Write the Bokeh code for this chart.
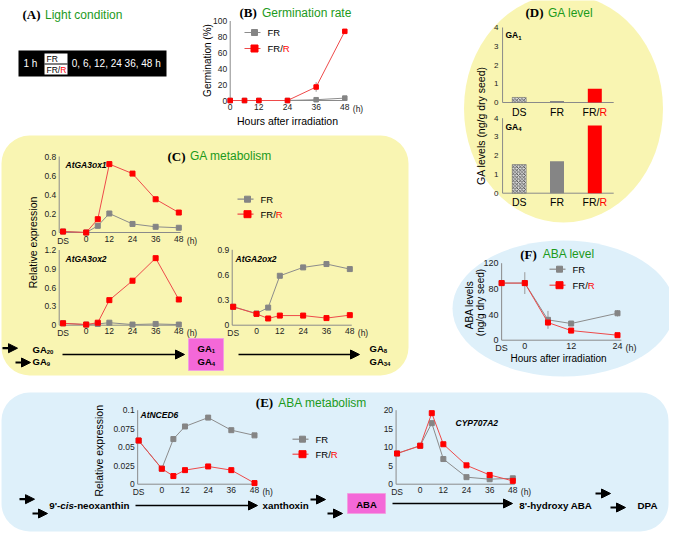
import math
from bokeh.plotting import figure
from bokeh.models import Range1d, Arrow, NormalHead
from bokeh.core.properties import value
from bokeh.embed import file_html
from bokeh.resources import INLINE

# ---------------- data ----------------
B_hours = [0, 6, 12, 24, 36, 48]
B_germ_FR = [0, 0, 0, 0, 1, 3]
B_germ_FRR = [0, 0, 0, 0, 17, 87]
B_err_FRR = [0, 0, 0, 0, 6, 0]
B_ticks = [0, 12, 24, 36, 48]
B_tick_labels = ["0", "12", "24", "36", "48"]
B_yticks = [0, 20, 40, 60, 80, 100]

T_hours = [-12, 0, 6, 12, 24, 36, 48]          # -12 stands for DS (dry seed)
T_ticks = [-12, 0, 12, 24, 36, 48]
T_tick_labels = ["DS", "0", "12", "24", "36", "48"]

GA3ox1_FR = [0.01, 0.0, 0.07, 0.20, 0.09, 0.06, 0.05]
GA3ox1_FRR = [0.01, 0.0, 0.14, 0.72, 0.62, 0.35, 0.21]
GA3ox2_FR = [0.03, 0.01, 0.02, 0.04, 0.01, 0.02, 0.01]
GA3ox2_FRR = [0.03, 0.01, 0.04, 0.40, 0.71, 1.07, 0.41]
GA2ox2_FR = [0.22, 0.14, 0.21, 0.59, 0.69, 0.73, 0.67]
GA2ox2_FRR = [0.22, 0.135, 0.08, 0.115, 0.115, 0.085, 0.12]

D_cats = ["DS", "FR", "FR/R"]
D_pos = [1, 2, 3]
GA1_level = [0.27, 0.08, 0.73]
GA4_level = [1.53, 1.71, 3.61]

F_hours = [-6, 0, 6, 12, 24]                     # -6 stands for DS
F_ticks = [-6, 0, 12, 24]
F_tick_labels = ["DS", "0", "12", "24"]
ABA_FR = [89, 89, 31.7, 26, 42]
ABA_FR_err = [0, 17, 14, 3, 5]
ABA_FRR = [89, 89, 27.5, 15, 7.8]
ABA_FRR_err = [0, 0, 0, 4, 0]

NCED6_FR = [0.059, 0.021, 0.061, 0.078, 0.090, 0.073, 0.066]
NCED6_FRR = [0.059, 0.021, 0.011, 0.019, 0.024, 0.019, 0.0015]
CYP_FR = [8.3, 10.4, 16.5, 6.8, 1.9, 1.35, 1.6]
CYP_FRR = [8.3, 10.4, 19.2, 10.8, 5.1, 2.5, 0.9]

# ---------------- styling ----------------
FONT = "Liberation Sans"
SERIF = "Liberation Serif"
GREEN = "#1c9a1c"
GREY = "#858585"
GREY_LINE = "#8c8c8c"
RED = "#ff0000"
RED_LINE = "#ee4a4a"
AX = "#8a8a8a"
YELLOW = "#f9f5b2"
BLUE = "#def0fa"
PINK = "#f468d8"

X0, X1, Y0, Y1 = 8, 677, 8, 540
p = figure(width=X1 - X0, height=Y1 - Y0, x_range=Range1d(X0, X1), y_range=Range1d(Y1, Y0),
           x_axis_type=None, y_axis_type=None, output_backend="svg", toolbar_location=None,
           min_border=0, outline_line_color=None, background_fill_color="white",
           border_fill_color="white")


def panel(name, px, dx, py, dy):
    sx = (dx[1] - dx[0]) / (px[1] - px[0])
    p.extra_x_ranges[name] = Range1d(dx[0] + (X0 - px[0]) * sx, dx[0] + (X1 - px[0]) * sx)
    sy = (dy[1] - dy[0]) / (py[0] - py[1])
    p.extra_y_ranges[name] = Range1d(dy[0] - (Y1 - py[0]) * sy, dy[0] + (py[0] - Y0) * sy)


def txt(x, y, s, size=9, color="black", font=FONT, style="normal", align="left",
        baseline="middle", angle=0.0):
    p.text(x=[x], y=[y], text=[s], text_font=value(font), text_font_size=f"{size}px",
           text_color=color, text_font_style=style, text_align=align,
           text_baseline=baseline, angle=angle)


def title(x, y, letter, label):
    txt(x, y, letter, 13, font=SERIF, style="bold")
    txt(x + 22.5, y, label, 12, color=GREEN)


def axes(name, xlo, xhi, ylo, yhi, yticks, ylabels, xticks, xlabels, hlabel=True, fs=8.5):
    kw = dict(x_range_name=name, y_range_name=name)
    p.segment(x0=[xlo, xlo], y0=[ylo, ylo], x1=[xlo, xhi], y1=[yhi, ylo],
              line_color=AX, line_width=1, **kw)
    p.text(x=[xlo] * len(yticks), y=yticks, text=ylabels, x_offset=-3,
           text_align="right", text_baseline="middle", text_font=value(FONT),
           text_font_size=f"{fs}px", text_color="#222222", **kw)
    p.text(x=xticks, y=[ylo] * len(xticks), text=xlabels, y_offset=3,
           text_align="center", text_baseline="top", text_font=value(FONT),
           text_font_size=f"{fs}px", text_color="#222222", **kw)
    if hlabel:
        p.text(x=[xticks[-1]], y=[ylo], text=["(h)"], x_offset=8, y_offset=3,
               text_align="left", text_baseline="top", text_font=value(FONT),
               text_font_size=f"{fs}px", text_color="#222222", **kw)


def series(name, xs, ys, color, lcolor, size=5):
    kw = dict(x_range_name=name, y_range_name=name)
    p.line(xs, ys, line_color=lcolor, line_width=1, **kw)
    p.scatter(xs, ys, marker="square", size=size, fill_color=color, line_color=color, **kw)


def errbars(name, xs, ys, errs, color):
    xx = [x for x, e in zip(xs, errs) if e > 0]
    lo = [y - e for y, e in zip(ys, errs) if e > 0]
    hi = [y + e for y, e in zip(ys, errs) if e > 0]
    p.segment(x0=xx, y0=lo, x1=xx, y1=hi, line_color=color, line_width=1,
              x_range_name=name, y_range_name=name)


def frr_text(x, y, size=9.5, baseline="middle"):
    w_fr = 1.611 * size
    txt(x, y, "FR/", size, baseline=baseline)
    txt(x + w_fr, y, "R", size, color=RED, baseline=baseline)


def legend(x, y_fr, y_frr, size=9.5):
    p.segment(x0=[x, x], y0=[y_fr, y_frr], x1=[x + 16, x + 16], y1=[y_fr, y_frr],
              line_color=[GREY_LINE, RED_LINE], line_width=1.2)
    p.scatter(x=[x + 10], y=[y_fr], marker="square", size=6, fill_color=GREY, line_color=GREY)
    p.scatter(x=[x + 10], y=[y_frr], marker="square", size=7, fill_color=RED, line_color=RED)
    txt(x + 23, y_fr, "FR", size)
    frr_text(x + 23, y_frr, size)


def arrow(xa, ya, xb, yb, lw=1.3, hs=9):
    p.add_layout(Arrow(end=NormalHead(size=hs, fill_color="black", line_color="black"),
                       x_start=xa, y_start=ya, x_end=xb, y_end=yb,
                       line_width=lw, line_color="black"))


def short_arrow(xa, y):
    arrow(xa, y, xa + 15, y, lw=2.2, hs=9)


def ga(x, y, sub, size=9.5):
    txt(x, y, "GA", size, style="bold")
    txt(x + 1.5 * size, y + 2.5, sub, 6, style="bold")


# ---------------- backgrounds ----------------
p.quad(left=[9], right=[416], top=[143], bottom=[383], fill_color=YELLOW, line_color=None,
       border_radius=28)
p.quad(left=[9], right=[676], top=[400], bottom=[539], fill_color=BLUE, line_color=None,
       border_radius=28)
p.ellipse(x=[571], y=[116], width=[199], height=[228], fill_color=YELLOW, line_color=None)
p.ellipse(x=[571], y=[316], width=[222], height=[136], fill_color=BLUE, line_color=None)

# ---------------- (A) Light condition ----------------
title(30, 22, "(A)", "Light condition")
p.quad(left=[26], right=[174], top=[58], bottom=[84], fill_color="black", line_color=None)
p.quad(left=[52], right=[75], top=[61], bottom=[82], fill_color="white", line_color=None)
p.segment(x0=[52], y0=[71.5], x1=[75], y1=[71.5], line_color="black", line_width=1)
txt(31, 71, "1 h", 10, color="white")
txt(54, 66.3, "FR", 8.5)
txt(54, 77, "FR/", 8.5)
txt(54 + 1.611 * 8.5, 77, "R", 8.5, color=RED)
txt(79.3, 71, "0, 6, 12, 24 36, 48 h", 10, color="white")

# ---------------- (B) Germination rate ----------------
title(247, 20, "(B)", "Germination rate")
panel("B", (237.7, 352.3), (0, 48), (108, 28.5), (0, 100))
axes("B", 0, 49, 0, 100, B_yticks, [str(v) for v in B_yticks], B_ticks, B_tick_labels)
series("B", B_hours, B_germ_FR, GREY, GREY_LINE, 4.5)
errbars("B", B_hours, B_germ_FRR, B_err_FRR, "#999999")
series("B", B_hours, B_germ_FRR, RED, RED_LINE, 4.5)
txt(215, 68, "Germination (%)", 10, align="center", angle=math.pi / 2)
txt(295, 128.5, "Hours after irradiation", 10.5, align="center")
legend(252, 40, 56)

# ---------------- (C) GA metabolism ----------------
title(175, 163.5, "(C)", "GA metabolism")
panel("C1", (93.7, 186.3), (0, 48), (240, 164), (0, 0.8))
axes("C1", -14, 49, 0, 0.8, [0, 0.2, 0.4, 0.6, 0.8], ["0", "0.2", "0.4", "0.6", "0.8"],
     T_ticks, T_tick_labels)
series("C1", T_hours, GA3ox1_FR, GREY, GREY_LINE)
series("C1", T_hours, GA3ox1_FRR, RED, RED_LINE)
txt(73, 172, "AtGA3ox1", 8.5, style="bold italic")

panel("C2", (93.7, 186.3), (0, 48), (332.7, 257.5), (0, 1.2))
axes("C2", -14, 49, 0, 1.2, [0, 0.3, 0.6, 0.9, 1.2], ["0", "0.3", "0.6", "0.9", "1.2"],
     T_ticks, T_tick_labels)
series("C2", T_hours, GA3ox2_FR, GREY, GREY_LINE)
series("C2", T_hours, GA3ox2_FRR, RED, RED_LINE)
txt(73, 266, "AtGA3ox2", 8.5, style="bold italic")

panel("C3", (264, 357.3), (0, 48), (332.7, 257.3), (0, 0.9))
axes("C3", -12.5, 49, 0, 0.9, [0, 0.3, 0.6, 0.9], ["0", "0.3", "0.6", "0.9"],
     T_ticks, T_tick_labels)
series("C3", T_hours, GA2ox2_FR, GREY, GREY_LINE)
series("C3", T_hours, GA2ox2_FRR, RED, RED_LINE)
txt(243, 266, "AtGA2ox2", 8.5, style="bold italic")

txt(40.7, 250, "Relative expression", 10.5, align="center", angle=math.pi / 2)
legend(245, 206.7, 221.7)

# pathway
short_arrow(10, 355.7)
short_arrow(23, 370)
ga(40, 356.7, "20")
ga(40, 369.3, "9")
arrow(70, 362, 192, 362)
p.quad(left=[196], right=[231], top=[346], bottom=[378], fill_color=PINK, line_color="#f0a0e0")
ga(205, 356, "1")
ga(205, 369.3, "4")
arrow(246, 362, 367, 362)
ga(377, 356, "8")
ga(377, 369.3, "34")

# ---------------- (D) GA level ----------------
title(533, 20, "(D)", "GA level")


def bars(name, vals, py0, py1):
    panel(name, (526.7, 602.3), (1, 3), (py0, py1), (0, 4))
    kw = dict(x_range_name=name, y_range_name=name)
    p.segment(x0=[0.56, 0.56], y0=[0, 0], x1=[0.56, 3.5], y1=[4, 0], line_color=AX,
              line_width=1, **kw)
    p.text(x=[0.56] * 5, y=[0, 1, 2, 3, 4], text=["0", "1", "2", "3", "4"], x_offset=-4,
           text_align="right", text_baseline="middle", text_font=value(FONT),
           text_font_size="8px", text_color="#222222", **kw)
    p.vbar(x=D_pos[:1], top=vals[:1], width=0.37, fill_color="#d8d8d8",
           hatch_pattern="diagonal_cross", hatch_color="#3a3a3a", hatch_scale=3.5,
           hatch_weight=0.8, line_color="#666666", line_width=0.5, **kw)
    p.vbar(x=D_pos[1:], top=vals[1:], width=0.37, fill_color=[GREY, RED],
           line_color=None, **kw)
    fs = 10.5
    p.text(x=D_pos[:2], y=[0, 0], text=D_cats[:2], y_offset=3, text_align="center",
           text_baseline="top", text_font=value(FONT), text_font_size=f"{fs}px", **kw)
    p.text(x=D_pos[2:], y=[0], text=["FR/"], x_offset=0.4445 * fs, y_offset=3,
           text_align="right", text_baseline="top", text_font=value(FONT),
           text_font_size=f"{fs}px", **kw)
    p.text(x=D_pos[2:], y=[0], text=["R"], x_offset=0.4445 * fs, y_offset=3,
           text_align="left", text_baseline="top", text_font=value(FONT),
           text_font_size=f"{fs}px", text_color=RED, **kw)


bars("D1", GA1_level, 110, 35)
bars("D2", GA4_level, 200.7, 125.7)
ga(513, 42.7, "1", 8.5)
ga(513, 134, "4", 8.5)
txt(488.3, 131.7, "GA levels  (ng/g dry seed)", 10.5, align="center", angle=math.pi / 2)

# ---------------- (F) ABA level ----------------
title(527.7, 261.7, "(F)", "ABA level")
panel("F", (532.3, 625), (0, 24), (347.7, 270.7), (0, 120))
axes("F", -6, 25, 0, 120, [0, 40, 80, 120], ["0", "40", "80", "120"], F_ticks,
     F_tick_labels, fs=9)
errbars("F", F_hours, ABA_FR, ABA_FR_err, "#999999")
errbars("F", F_hours, ABA_FRR, ABA_FRR_err, "#999999")
series("F", F_hours, ABA_FR, GREY, GREY_LINE, 5)
series("F", F_hours, ABA_FRR, RED, RED_LINE, 5)
txt(476.7, 312.5, "ABA levels", 10, align="center", angle=math.pi / 2)
txt(488.3, 310, "(ng/g dry seed)", 10, align="center", angle=math.pi / 2)
txt(566, 366, "Hours after irradiation", 10, align="center")
legend(557, 276.7, 292.7)

# ---------------- (E) ABA metabolism ----------------
title(263.3, 410, "(E)", "ABA metabolism")
panel("E1", (169.3, 262), (0, 48), (491.7, 417.7), (0, 0.1))
axes("E1", -12.5, 49, 0, 0.1, [0, 0.025, 0.05, 0.075, 0.1],
     ["0", "0.025", "0.05", "0.075", "0.1"], T_ticks, T_tick_labels)
series("E1", T_hours, NCED6_FR, GREY, GREY_LINE)
series("E1", T_hours, NCED6_FRR, RED, RED_LINE)
txt(148, 422, "AtNCED6", 8.5, style="bold italic")
txt(106, 458.3, "Relative expression", 10.5, align="center", angle=math.pi / 2)
legend(300, 446.7, 461.7)

panel("E2", (427.7, 520.3), (0, 48), (491.7, 417.7), (0, 20))
axes("E2", -12.5, 49, 0, 20, [0, 5, 10, 15, 20], ["0", "5", "10", "15", "20"],
     T_ticks, T_tick_labels)
series("E2", T_hours, CYP_FR, GREY, GREY_LINE)
series("E2", T_hours, CYP_FRR, RED, RED_LINE)
txt(463, 430, "CYP707A2", 8.5, style="bold italic")

# pathway
short_arrow(27, 506.7)
short_arrow(40, 521)
fs = 9.8
txt(56.7, 513.3, "9'-", fs, style="bold")
txt(56.7 + 1.127 * fs, 513.3, "cis", fs, style="bold italic")
txt(56.7 + 2.517 * fs, 513.3, "-neoxanthin", fs, style="bold")
arrow(143, 513, 265, 513)
txt(270, 513.3, "xanthoxin", fs, style="bold")
short_arrow(318, 507)
short_arrow(335, 521)
p.quad(left=[355], right=[393], top=[501], bottom=[521], fill_color=PINK, line_color="#f0a0e0")
txt(374, 511.5, "ABA", 9.5, style="bold", align="center")
arrow(400, 511, 520, 511)
txt(526.7, 513.3, "8'-hydroxy ABA", fs, style="bold")
short_arrow(603, 501)
short_arrow(618, 515)
txt(645, 513.3, "DPA", fs, style="bold")

open("out.html", "w").write(file_html(p, INLINE))
